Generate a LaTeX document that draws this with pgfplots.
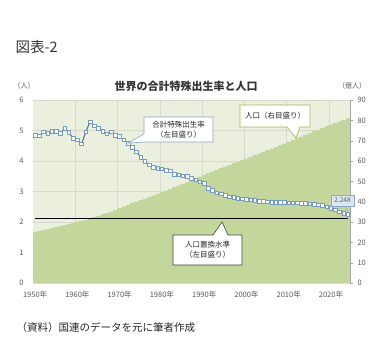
\documentclass[border=0pt]{standalone}
\usepackage{fontspec}
\setmainfont{Noto Sans CJK JP}
\usepackage{pgfplots}
\usepackage{pgfplotstable}
\pgfplotsset{compat=1.18}
\definecolor{bgcol}{RGB}{235,240,222}
\definecolor{gridcol}{RGB}{214,218,205}
\definecolor{areacol}{RGB}{195,214,155}
\definecolor{linecol}{RGB}{74,106,155}
\definecolor{markcol}{RGB}{120,155,195}
\definecolor{tickcol}{RGB}{89,89,89}
\definecolor{callblue}{RGB}{140,168,198}
\definecolor{callgreen}{RGB}{155,187,89}
\definecolor{lblfill}{RGB}{220,230,242}

\pgfplotstableread{
year tfr
1950 4.85
1951 4.82
1952 4.96
1953 4.91
1954 4.98
1955 4.98
1956 4.91
1957 5.07
1958 4.93
1959 4.74
1960 4.69
1961 4.56
1962 4.96
1963 5.29
1964 5.15
1965 5.07
1966 4.98
1967 4.89
1968 4.96
1969 4.85
1970 4.80
1971 4.69
1972 4.58
1973 4.45
1974 4.30
1975 4.12
1976 3.98
1977 3.87
1978 3.79
1979 3.76
1980 3.74
1981 3.70
1982 3.68
1983 3.57
1984 3.54
1985 3.51
1986 3.49
1987 3.43
1988 3.38
1989 3.32
1990 3.27
1991 3.10
1992 3.03
1993 2.96
1994 2.92
1995 2.87
1996 2.83
1997 2.80
1998 2.78
1999 2.76
2000 2.74
2001 2.72
2002 2.70
2003 2.68
2004 2.67
2005 2.66
2006 2.65
2007 2.65
2008 2.65
2009 2.64
2010 2.63
2011 2.63
2012 2.63
2013 2.62
2014 2.61
2015 2.59
2016 2.57
2017 2.56
2018 2.54
2019 2.50
2020 2.45
2021 2.40
2022 2.33
2023 2.28
2024 2.248
}\tfrtable

\pgfplotstableread{
year pop
1950 24.9
1951 25.4
1952 25.8
1953 26.3
1954 26.8
1955 27.3
1956 27.8
1957 28.4
1958 28.9
1959 29.5
1960 30.0
1961 30.4
1962 30.9
1963 31.6
1964 32.3
1965 33.0
1966 33.7
1967 34.4
1968 35.1
1969 35.9
1970 36.7
1971 37.5
1972 38.3
1973 39.1
1974 39.9
1975 40.7
1976 41.4
1977 42.2
1978 43.0
1979 43.8
1980 44.6
1981 45.4
1982 46.2
1983 47.1
1984 47.9
1985 48.7
1986 49.6
1987 50.5
1988 51.4
1989 52.3
1990 53.1
1991 54.0
1992 54.8
1993 55.6
1994 56.4
1995 57.2
1996 58.0
1997 58.8
1998 59.6
1999 60.4
2000 61.2
2001 62.0
2002 62.8
2003 63.6
2004 64.4
2005 65.2
2006 66.0
2007 66.8
2008 67.7
2009 68.5
2010 69.4
2011 70.2
2012 71.1
2013 71.9
2014 72.8
2015 73.6
2016 74.5
2017 75.3
2018 76.2
2019 77.0
2020 77.9
2021 78.6
2022 79.4
2023 80.2
2024 81.0
}\poptable

\pgfplotsset{
  base/.style={
    scale only axis, width=317pt, height=183pt,
    at={(33pt,72pt)}, anchor=south west,
    xmin=1949.5, xmax=2024.5,
    /pgf/number format/assume math mode=true,
    tick label style={font=\fontsize{7.5}{8}\selectfont, text=tickcol},
  }
}

\begin{document}
\begin{tikzpicture}
\path[use as bounding box] (0pt,0pt) rectangle (391pt,355pt);

% Background + grid
\begin{axis}[base,
  ymin=0, ymax=6,
  axis background/.style={fill=bgcol},
  axis line style={draw=none},
  major tick length=0pt,
  xtick={1959.5,1969.5,1979.5,1989.5,1999.5,2009.5,2019.5},
  xticklabels={},
  ytick={0,1,2,3,4,5,6},
  yticklabels={},
  xmajorgrids, ymajorgrids,
  grid style={gridcol, line width=0.5pt},
]
\end{axis}

% Population (right axis)
\begin{axis}[base,
  ymin=0, ymax=90,
  axis x line=none,
  axis y line*=right,
  axis line style={draw=gray!70, line width=0.4pt},
  ytick={0,10,...,90},
  tick align=outside,
  major tick length=3pt,
  tick style={draw=gray!70},
  yticklabel style={xshift=1pt},
]
\addplot[ybar, bar width=1, bar shift=0pt, fill=areacol, draw=areacol, line width=0.1pt]
  table[x=year, y=pop] {\poptable};
\end{axis}

% TFR (left axis)
\begin{axis}[base,
  ymin=0, ymax=6,
  clip=false,
  axis line style={draw=none},
  major tick length=0pt,
  ytick={0,1,2,3,4,5,6},
  xtick={1950,1960,1970,1980,1990,2000,2010,2020},
  xticklabels={1950年,1960年,1970年,1980年,1990年,2000年,2010年,2020年},
  yticklabel style={xshift=-6pt},
  xticklabel style={yshift=-5pt},
]
\addplot[black, line width=1pt] coordinates {(1950,2.1) (2024,2.1)};
\addplot[linecol, line width=1pt, mark=square*,
  mark options={fill=white, draw=markcol, line width=0.7pt}, mark size=1.8pt]
  table[x=year, y=tfr] {\tfrtable};
\end{axis}

% Callouts
\draw[callblue, fill=white, line width=0.6pt]
  (144pt,238pt) -- (213pt,238pt) -- (213pt,213pt) -- (146pt,213pt)
  -- (128pt,212pt) -- (144pt,221pt) -- cycle;
\node[align=center, font=\fontsize{7.5}{10}\selectfont, text=black!85]
  at (178.5pt,225.5pt) {合計特殊出生率\\（左目盛り）};

\draw[callgreen, fill=white, line width=0.6pt]
  (240pt,250pt) -- (310pt,250pt) -- (310pt,228pt) -- (300pt,228pt)
  -- (296pt,217pt) -- (287pt,228pt) -- (240pt,228pt) -- cycle;
\node[font=\fontsize{7.5}{9}\selectfont, text=black!85]
  at (275pt,239pt) {人口（右目盛り）};

\draw[black!75, fill=white, line width=0.6pt]
  (173pt,120pt) -- (213pt,120pt) -- (222pt,133pt) -- (228pt,120pt)
  -- (242pt,120pt) -- (242pt,90pt) -- (173pt,90pt) -- cycle;
\node[align=center, font=\fontsize{7.5}{10}\selectfont, text=black!85]
  at (207.5pt,105pt) {人口置換水準\\（左目盛り）};

\draw[callblue, line width=0.4pt] (345pt,149pt) -- (348pt,142pt);
\draw[callblue, fill=lblfill, line width=0.5pt]
  (331pt,160pt) rectangle (354pt,149pt);
\node[font=\fontsize{6.5}{8}\selectfont, text=tickcol] at (342.5pt,154.5pt) {2.248};

% Titles
\node[font=\fontsize{14.5}{16}\selectfont, text=black!80, anchor=west]
  at (12pt,308pt) {図表-2};
\node[font=\bfseries\fontsize{11}{12}\selectfont, text=black!80]
  at (186pt,269pt) {世界の合計特殊出生率と人口};
\node[font=\fontsize{7}{8}\selectfont, text=tickcol] at (24pt,269pt) {（人）};
\node[font=\fontsize{7}{8}\selectfont, text=tickcol] at (352pt,269pt) {（億人）};
\node[font=\fontsize{10.5}{11}\selectfont, text=black!85, anchor=west]
  at (13pt,27pt) {（資料）国連のデータを元に筆者作成};
\end{tikzpicture}
\end{document}
